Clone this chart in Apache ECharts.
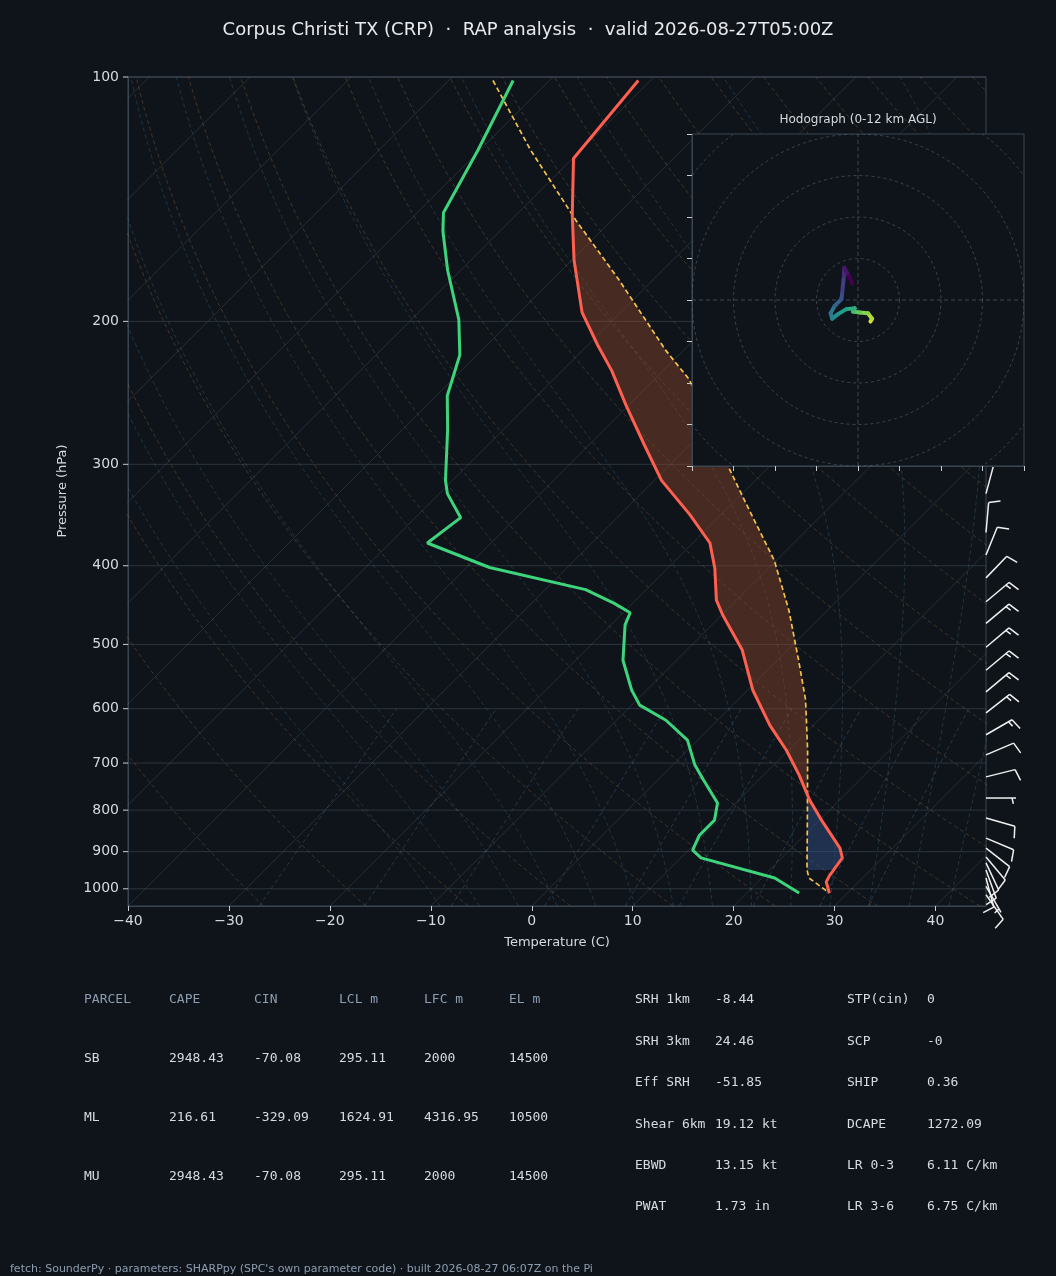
<!DOCTYPE html>
<html>
<head>
<meta charset="utf-8">
<script src="https://cdn.jsdelivr.net/npm/echarts@6/dist/echarts.min.js"></script>
<style>
html, body { margin: 0; padding: 0; background: #0f141a; }
#main { width: 1056px; height: 1276px; }
</style>
</head>
<body>
<div id="main"></div>
<script>
// sounding (pressure hPa, temperature C)
var tempP = [101, 126, 148, 168, 195, 214, 230, 254, 284, 314, 346, 375, 403, 441, 460, 508, 569, 629, 675, 724, 777, 823, 891, 916, 964, 981, 1012];
var tempT = [-71.2, -69.9, -64.4, -59.8, -53.8, -49, -45.1, -40.2, -34.5, -29.3, -23.1, -18.3, -15.3, -12, -9.9, -4.5, 0.5, 5.7, 9.8, 13.5, 17, 20.2, 24.8, 26, 26.5, 26.8, 28.2];
var dewP = [101, 123, 147, 155, 173, 199, 220, 247, 272, 314, 326, 349, 375, 402, 428, 445, 457, 473, 523, 569, 594, 620, 656, 704, 734, 784, 823, 859, 896, 916, 970, 1012];
var dewT = [-83.6, -80.2, -77.4, -75.6, -71.3, -65.3, -61.7, -58.9, -55.5, -50.7, -49.2, -45.5, -46.3, -37.7, -26, -21.8, -19.3, -18.6, -15.3, -11.5, -9.2, -5.1, -1, 2.2, 4.5, 8.2, 9.6, 9.6, 10.4, 12, 21.3, 25.2];
var parcelP = [101, 123, 150, 178, 217, 236, 288, 342, 394, 454, 523, 585, 675, 777, 948, 970, 1012];
var parcelT = [-85.6, -75, -63.6, -53.3, -41.8, -36.5, -26.5, -17.6, -10.2, -3.8, 2.1, 6.7, 11.9, 16.8, 23.7, 24.7, 28.2];
var lfcP = 790, elP = 150, cinBaseP = 948;

// wind barbs
var windP = [326, 364, 388, 414, 443, 471, 504, 538, 572, 607, 646, 684, 728, 773, 818, 866, 891, 914, 929, 948, 970, 993, 1017];
var windDir = [15, 5, 22, 44, 50, 50, 50, 50, 50, 52, 60, 67, 76, 90, 106, 113, 128, 140, 155, 160, 165, 150, 145];
var windSpd = [10, 10, 10, 10, 15, 15, 15, 15, 15, 15, 15, 10, 10, 5, 10, 10, 10, 10, 10, 10, 10, 5, 10];

// hodograph (kt), surface first
var hodoU = [3.0, 3.4, 2.4, 0.4, -1.2, -0.8, -2.8, -4.8, -6.2, -6.6, -5.6, -4.0, -3.8, -3.4, -3.3, -2.2, -1.4];
var hodoV = [-5.2, -4.5, -3.2, -3.0, -2.8, -2.0, -2.2, -3.4, -4.5, -3.2, -1.4, 0.2, 1.8, 5.8, 7.8, 5.8, 4.0];

var pressureTicks = [100, 200, 300, 400, 500, 600, 700, 800, 900, 1000];

var tableHead = ['PARCEL', 'CAPE', 'CIN', 'LCL m', 'LFC m', 'EL m'];
var tableRows = [
  ['SB', '2948.43', '-70.08', '295.11', '2000', '14500'],
  ['ML', '216.61', '-329.09', '1624.91', '4316.95', '10500'],
  ['MU', '2948.43', '-70.08', '295.11', '2000', '14500']
];
var paramsA = [['SRH 1km', '-8.44'], ['SRH 3km', '24.46'], ['Eff SRH', '-51.85'], ['Shear 6km', '19.12 kt'], ['EBWD', '13.15 kt'], ['PWAT', '1.73 in']];
var paramsB = [['STP(cin)', '0'], ['SCP', '-0'], ['SHIP', '0.36'], ['DCAPE', '1272.09'], ['LR 0-3', '6.11 C/km'], ['LR 3-6', '6.75 C/km']];

var SKEW = 80.4, PBOT = 1050;
function sx(t, p) { return t + SKEW * Math.log10(PBOT / p); }
function toXY(P, T) { return P.map(function (p, i) { return [sx(T[i], p), p]; }); }
function interp(P, T, p) {
  for (var i = 0; i < P.length - 1; i++) {
    if (p >= P[i] && p <= P[i + 1]) {
      var f = Math.log(p / P[i]) / Math.log(P[i + 1] / P[i]);
      return T[i] + f * (T[i + 1] - T[i]);
    }
  }
  return p < P[0] ? T[0] : T[T.length - 1];
}
var viridis = [[253, 231, 37], [160, 218, 57], [74, 193, 109], [31, 161, 135], [39, 127, 142], [54, 92, 141], [70, 50, 126], [68, 1, 84]];
function vcol(f) {
  var x = f * (viridis.length - 1), i = Math.min(Math.floor(x), viridis.length - 2), k = x - i;
  var c = viridis[i].map(function (v, j) { return Math.round(v + k * (viridis[i + 1][j] - v)); });
  return 'rgb(' + c.join(',') + ')';
}

var series = [];
function bg(data, color, dashed, w) {
  series.push({ type: 'line', xAxisIndex: 0, yAxisIndex: 0, data: data, showSymbol: false, silent: true,
    lineStyle: { color: color, width: w || 1, type: dashed ? [4, 3] : 'solid' }, z: 1 });
}
var pLevels = [];
for (var pp = 1050; pp >= 100; pp -= 10) pLevels.push(pp);
// isotherms
for (var t = -120; t <= 50; t += 10) bg([[sx(t, 1050), 1050], [sx(t, 100), 100]], 'rgba(120,135,150,0.22)', false);
// dry adiabats
for (var th = -30; th <= 200; th += 10) {
  bg(pLevels.map(function (p) { return [sx((th + 273.15) * Math.pow(p / 1000, 0.2857) - 273.15, p), p]; }), 'rgba(170,120,70,0.33)', true);
}
// moist adiabats
function rs(T, p) { var es = 6.112 * Math.exp(17.67 * (T - 273.15) / (T - 29.65)); return 0.622 * es / (p - es); }
function gam(T, p) { var r = rs(T, p); return (287 * T + 2.5e6 * r) / (p * (1004 + 2.5e6 * 2.5e6 * r * 0.622 / (287 * T * T))); }
for (var t0 = -12; t0 <= 40; t0 += 4) {
  var T = t0 + 273.15, Tl = T, lower = [];
  for (var p2 = 1000; p2 < 1050; p2 += 5) {
    Tl += 5 * gam(Tl, p2);
    lower.push([sx(Tl - 273.15, p2 + 5), p2 + 5]);
  }
  var pts = lower.reverse();
  pts.push([sx(t0, 1000), 1000]);
  for (var p3 = 1000; p3 > 100; p3 -= 5) {
    T -= 5 * gam(T, p3);
    pts.push([sx(T - 273.15, p3 - 5), p3 - 5]);
  }
  bg(pts, 'rgba(70,120,140,0.33)', true);
}
// mixing ratio lines
[0.4, 1, 2, 4, 7, 10, 16, 24, 32].forEach(function (w) {
  var d = [];
  for (var p = 1050; p >= 600; p -= 25) {
    var e = w * p / (622 + w), l = Math.log(e / 6.112);
    d.push([sx(243.5 * l / (17.67 - l), p), p]);
  }
  bg(d, 'rgba(90,120,160,0.35)', true);
});

// pressure grid + labels
series.push({
  type: 'custom', xAxisIndex: 0, yAxisIndex: 0, data: pressureTicks, silent: true, clip: false, z: 2,
  renderItem: function (params, api) {
    var p = api.value(0);
    var a = api.coord([-40, p]), b = api.coord([45, p]);
    return { type: 'group', children: [
      { type: 'line', shape: { x1: a[0], y1: a[1], x2: b[0], y2: b[1] }, style: { stroke: 'rgba(120,135,150,0.28)', lineWidth: 1 } },
      { type: 'line', shape: { x1: a[0] - 5, y1: a[1], x2: a[0], y2: a[1] }, style: { stroke: '#c8ccd2', lineWidth: 1 } },
      { type: 'text', style: { x: a[0] - 9, y: a[1], text: String(p), align: 'right', verticalAlign: 'middle', fill: '#d6dade', font: '14px "DejaVu Sans"' } }
    ] };
  }
});

// CAPE / CIN shading
function fillPoly(pTop, pBot, leftP, leftT, rightP, rightT, color) {
  series.push({
    type: 'custom', xAxisIndex: 0, yAxisIndex: 0, data: [0], silent: true, z: 3,
    renderItem: function (params, api) {
      var a = [], b = [];
      for (var p = pTop; p <= pBot + 0.01; p += 2) {
        a.push(api.coord([sx(interp(leftP, leftT, p), p), p]));
        b.push(api.coord([sx(interp(rightP, rightT, p), p), p]));
      }
      return { type: 'polygon', shape: { points: a.concat(b.reverse()) }, style: { fill: color } };
    }
  });
}
fillPoly(elP, lfcP, tempP, tempT, parcelP, parcelT, 'rgba(150,75,45,0.42)');
fillPoly(lfcP, cinBaseP, parcelP, parcelT, tempP, tempT, 'rgba(55,90,150,0.42)');

// profiles
series.push({ type: 'line', xAxisIndex: 0, yAxisIndex: 0, data: toXY(parcelP, parcelT), showSymbol: false, z: 5,
  lineStyle: { color: '#f2c14e', width: 1.7, type: [5, 3] } });
series.push({ type: 'line', xAxisIndex: 0, yAxisIndex: 0, data: toXY(tempP, tempT), showSymbol: false, z: 6,
  lineStyle: { color: '#ff5f4f', width: 3 } });
series.push({ type: 'line', xAxisIndex: 0, yAxisIndex: 0, data: toXY(dewP, dewT), showSymbol: false, z: 6,
  lineStyle: { color: '#3dd47c', width: 3 } });

// wind barbs
series.push({
  type: 'custom', xAxisIndex: 0, yAxisIndex: 0, clip: false, silent: true, z: 7,
  data: windP.map(function (p, i) { return [45, p, windDir[i], windSpd[i]]; }),
  renderItem: function (params, api) {
    var base = api.coord([45, api.value(1)]);
    var d = api.value(2) * Math.PI / 180, spd = api.value(3);
    var ux = Math.sin(d), uy = -Math.cos(d), L = 30;
    var tip = [base[0] + ux * L, base[1] + uy * L];
    var fa = Math.atan2(uy, ux) + 77 * Math.PI / 180;
    var fx = Math.cos(fa), fy = Math.sin(fa);
    var st = { stroke: '#f0f0f0', lineWidth: 1.5 };
    var kids = [{ type: 'line', shape: { x1: base[0], y1: base[1], x2: tip[0], y2: tip[1] }, style: st }];
    var pos = 0, s = spd;
    while (s >= 10) {
      var o = [tip[0] - ux * pos, tip[1] - uy * pos];
      kids.push({ type: 'line', shape: { x1: o[0], y1: o[1], x2: o[0] + fx * 12, y2: o[1] + fy * 12 }, style: st });
      pos += 4; s -= 10;
    }
    if (s >= 5) {
      if (spd < 10) pos = 4;
      var o2 = [tip[0] - ux * pos, tip[1] - uy * pos];
      kids.push({ type: 'line', shape: { x1: o2[0], y1: o2[1], x2: o2[0] + fx * 6, y2: o2[1] + fy * 6 }, style: st });
    }
    return { type: 'group', children: kids };
  }
});

// hodograph rings
series.push({
  type: 'custom', xAxisIndex: 1, yAxisIndex: 1, data: [10, 20, 30, 40, 50, 60], silent: true, clip: true, z: 20,
  renderItem: function (params, api) {
    var c = api.coord([0, 0]), r = api.size([api.value(0), 0])[0];
    return { type: 'circle', shape: { cx: c[0], cy: c[1], r: r }, style: { fill: null, stroke: 'rgba(120,135,150,0.4)', lineWidth: 1, lineDash: [3, 3] } };
  }
});
series.push({
  type: 'custom', xAxisIndex: 1, yAxisIndex: 1, data: [0], silent: true, clip: true, z: 20,
  renderItem: function (params, api) {
    var a = api.coord([-40, 0]), b = api.coord([40, 0]), c = api.coord([0, -40]), d = api.coord([0, 40]);
    var st = { stroke: 'rgba(120,135,150,0.45)', lineWidth: 1, lineDash: [4, 3] };
    return { type: 'group', children: [
      { type: 'line', shape: { x1: a[0], y1: a[1], x2: b[0], y2: b[1] }, style: st },
      { type: 'line', shape: { x1: c[0], y1: c[1], x2: d[0], y2: d[1] }, style: st }
    ] };
  }
});
// hodograph trace, coloured by height
series.push({
  type: 'custom', xAxisIndex: 1, yAxisIndex: 1, silent: true, z: 21,
  data: hodoU.map(function (u, i) { return [u, hodoV[i], i]; }),
  renderItem: function (params, api) {
    var i = params.dataIndex;
    if (i === 0) return null;
    var a = api.coord([hodoU[i - 1], hodoV[i - 1]]), b = api.coord([api.value(0), api.value(1)]);
    return { type: 'line', shape: { x1: a[0], y1: a[1], x2: b[0], y2: b[1] },
      style: { stroke: vcol(i / (hodoU.length - 1)), lineWidth: 4, lineCap: 'round' } };
  }
});

// table graphics
var graphics = [];
function txt(x, y, s, color, font) {
  graphics.push({ type: 'text', x: x, y: y, style: { text: s, fill: color, verticalAlign: 'middle', font: font || '13px "DejaVu Sans Mono"' } });
}
var cols = [84, 169, 254, 339, 424, 509];
tableHead.forEach(function (h, i) { txt(cols[i], 1000, h, '#8d9db0'); });
tableRows.forEach(function (row, r) { row.forEach(function (v, i) { txt(cols[i], 1059 + r * 59, v, '#d8dce1'); }); });
paramsA.forEach(function (pr, i) { txt(635, 1000 + i * 41.4, pr[0], '#d8dce1'); txt(715, 1000 + i * 41.4, pr[1], '#d8dce1'); });
paramsB.forEach(function (pr, i) { txt(847, 1000 + i * 41.4, pr[0], '#d8dce1'); txt(927, 1000 + i * 41.4, pr[1], '#d8dce1'); });
txt(10, 1269, "fetch: SounderPy \u00b7 parameters: SHARPpy (SPC's own parameter code) \u00b7 built 2026-08-27 06:07Z on the Pi", '#8d9db0', '11px "DejaVu Sans"');
graphics.push({ type: 'text', x: 63, y: 491, rotation: Math.PI / 2,
  style: { text: 'Pressure (hPa)', fill: '#d6dade', font: '13px "DejaVu Sans"', align: 'center', verticalAlign: 'middle' } });
graphics.push({ type: 'text', x: 858, y: 120, z: 30, style: { text: 'Hodograph (0-12 km AGL)', fill: '#d6dade', font: '12px "DejaVu Sans"', align: 'center', verticalAlign: 'middle' } });

var axisCol = '#3a4552';
var myChart = echarts.init(document.getElementById('main'));
var option = {
  backgroundColor: '#0f141a',
  animation: false,
  title: {
    text: 'Corpus Christi TX (CRP)  \u00b7  RAP analysis  \u00b7  valid 2026-08-27T05:00Z',
    left: 'center', top: 16,
    textStyle: { color: '#e8eaed', fontSize: 18, fontWeight: 'normal', fontFamily: 'DejaVu Sans' }
  },
  grid: [
    { left: 128, right: 70, top: 77, bottom: 370, show: true, borderColor: axisCol, borderWidth: 1, backgroundColor: 'transparent' },
    { left: 692, width: 332, top: 134, height: 332, show: true, borderColor: axisCol, borderWidth: 1, backgroundColor: '#0f141a', z: 15 }
  ],
  xAxis: [
    { type: 'value', gridIndex: 0, min: -40, max: 45, interval: 10, name: 'Temperature (C)', nameLocation: 'middle', nameGap: 30,
      nameTextStyle: { color: '#d6dade', fontSize: 13, fontFamily: 'DejaVu Sans' },
      axisLine: { onZero: false, lineStyle: { color: axisCol } }, axisTick: { show: true, length: 5, lineStyle: { color: '#c8ccd2' } },
      axisLabel: { color: '#d6dade', fontSize: 14, fontFamily: 'DejaVu Sans', showMaxLabel: false,
        formatter: function (v) { return v === 45 ? '' : (v < 0 ? '\u2212' + (-v) : String(v)); } },
      splitLine: { show: false } },
    { type: 'value', gridIndex: 1, min: -40, max: 40, interval: 10, z: 15,
      axisLine: { onZero: false, lineStyle: { color: axisCol } }, axisTick: { show: true, length: 5, lineStyle: { color: '#c8ccd2' } },
      axisLabel: { show: false }, splitLine: { show: false } }
  ],
  yAxis: [
    { type: 'log', logBase: 10, gridIndex: 0, min: 100, max: 1050, inverse: true,
      axisLine: { show: true, onZero: false, lineStyle: { color: axisCol } }, axisTick: { show: false }, axisLabel: { show: false }, splitLine: { show: false } },
    { type: 'value', gridIndex: 1, min: -40, max: 40, interval: 10, z: 15,
      axisLine: { onZero: false, lineStyle: { color: axisCol } }, axisTick: { show: true, length: 5, lineStyle: { color: '#c8ccd2' } },
      axisLabel: { show: false }, splitLine: { show: false } }
  ],
  graphic: graphics,
  series: series
};
myChart.setOption(option);
</script>
</body>
</html>
